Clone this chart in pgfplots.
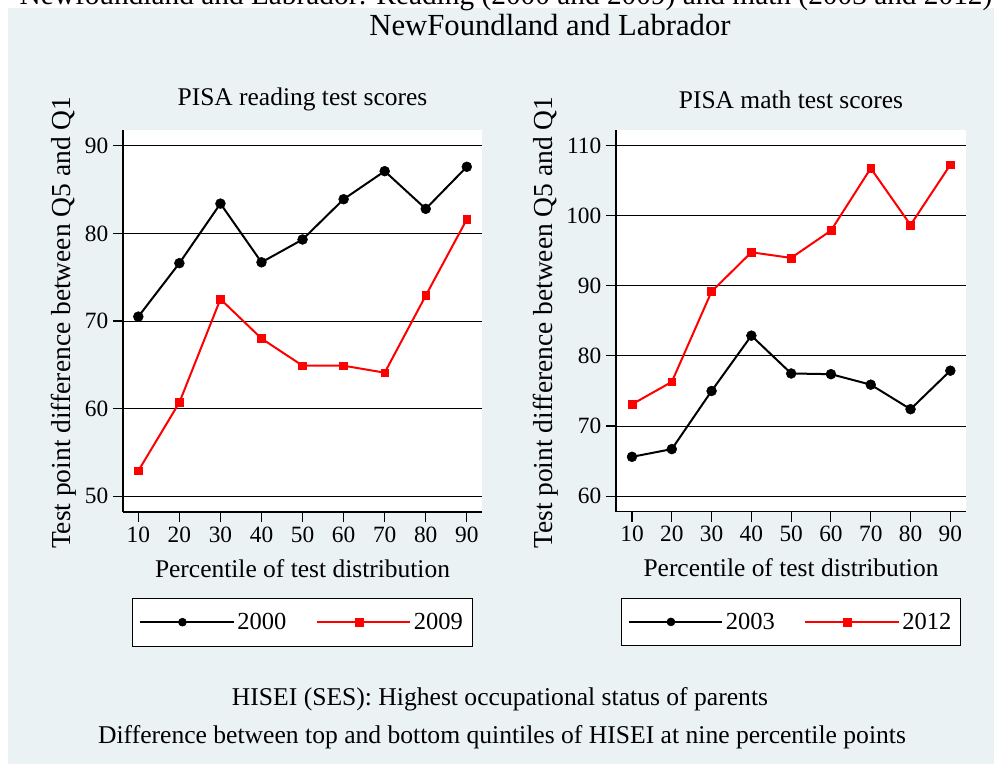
\documentclass[border=0pt]{standalone}
\usepackage{fontspec}
\setmainfont{Liberation Serif}
\usepackage{pgfplots}
\pgfplotsset{compat=1.18}
\definecolor{stbg}{RGB}{234,242,243}

% 1 px of the reference = 0.75pt
\pgfplotsset{
  panel/.style={
    scale only axis, height=286.5pt,
    axis x line=bottom, axis y line=left, axis line style={-, line width=0.8pt},
    tick align=outside, major tick length=7.5pt,
    tick style={black, line width=0.8pt},
    axis background/.style={fill=white},
    ymajorgrids, major grid style={black, line width=0.75pt},
    xtick={10,20,...,90},
    /pgf/number format/assume math mode=true,
    ticklabel style={font=\fontsize{17.5}{19}\selectfont},
    title style={font=\fontsize{19.1}{22}\selectfont, anchor=center},
    xlabel={Percentile of test distribution},
    xlabel style={font=\fontsize{19.1}{22}\selectfont, at={(axis description cs:0.5,-0.147)}, anchor=center},
    ylabel={Test point difference between Q5 and Q1},
    ylabel style={font=\fontsize{20.6}{22}\selectfont, anchor=center},
    legend columns=2,
    legend style={at={(0.5,-0.225)}, anchor=north, draw=black, line width=0.6pt, fill=white,
      font=\fontsize{18.4}{20}\selectfont, inner xsep=5pt, inner ysep=9pt,
      /tikz/every even column/.append style={column sep=20pt}},
    legend image code/.code={%
      \path (0pt,0pt) -- (70pt,0pt);
      \draw[##1, mark size=3pt, mark repeat=2, mark phase=2]
        plot coordinates {(0pt,0pt) (31.5pt,0pt) (63pt,0pt)};},
  },
  sblack/.style={black, line width=1.5pt, mark=*, mark size=3.7pt, mark options={line width=0.4pt}},
  sred/.style={red, line width=1.5pt, mark=square*, mark size=2.9pt, mark options={line width=0.4pt}},
}

\begin{document}
\begin{tikzpicture}
\useasboundingbox (0,0) rectangle (745.5pt,573pt);
\path[clip] (0,0) rectangle (745.5pt,573pt);
\begin{scope}[x=0.75pt, y=0.75pt]
  \fill[white] (0,0) rectangle (994,764);
  \fill[stbg] (8,0) rectangle (994,756);
  \node[anchor=base, font=\fontsize{22}{26}\selectfont, inner sep=0pt] at (506,759)
    {Newfoundland and Labrador: Reading (2000 and 2009) and math (2003 and 2012)};
  \node[anchor=base, font=\fontsize{23}{26}\selectfont, inner sep=0pt] at (550,728)
    {NewFoundland and Labrador};
  \node[anchor=base, font=\fontsize{19.2}{22}\selectfont, inner sep=0pt] at (500,59)
    {HISEI (SES): Highest occupational status of parents};
  \node[anchor=base, font=\fontsize{19.2}{22}\selectfont, inner sep=0pt] at (502,21)
    {Difference between top and bottom quintiles of HISEI at nine percentile points};
\end{scope}

\begin{axis}[panel, at={(92.25pt,189pt)}, anchor=south west, width=269.25pt,
  xmin=6.27, xmax=93.7, ymin=48.2, ymax=91.8, ytick={50,60,...,90},
  title={PISA reading test scores}, title style={at={(axis description cs:0.5,1.058)}},
  ylabel style={at={(axis description cs:-0.164,0.495)}}]
\addplot[sblack] coordinates {
  (10,70.5) (20,76.6) (30,83.4) (40,76.7) (50,79.3) (60,83.9) (70,87.1) (80,82.8) (90,87.6)};
\addplot[sred] coordinates {
  (10,52.9) (20,60.7) (30,72.5) (40,68.0) (50,64.9) (60,64.9) (70,64.1) (80,72.9) (90,81.6)};
\legend{2000, 2009}
\end{axis}

\begin{axis}[panel, at={(462pt,189.2pt)}, anchor=south west, width=262.5pt,
  xmin=5.98, xmax=93.94, ymin=57.76, ymax=112.3, ytick={60,70,...,110},
  title={PISA math test scores}, title style={at={(axis description cs:0.5,1.058)}},
  ylabel style={at={(axis description cs:-0.2,0.495)}}]
\addplot[sblack] coordinates {
  (10,65.6) (20,66.7) (30,75.0) (40,82.9) (50,77.5) (60,77.4) (70,75.9) (80,72.4) (90,77.9)};
\addplot[sred] coordinates {
  (10,73.1) (20,76.3) (30,89.2) (40,94.8) (50,94.0) (60,97.9) (70,106.8) (80,98.7) (90,107.3)};
\legend{2003, 2012}
\end{axis}
\end{tikzpicture}
\end{document}
